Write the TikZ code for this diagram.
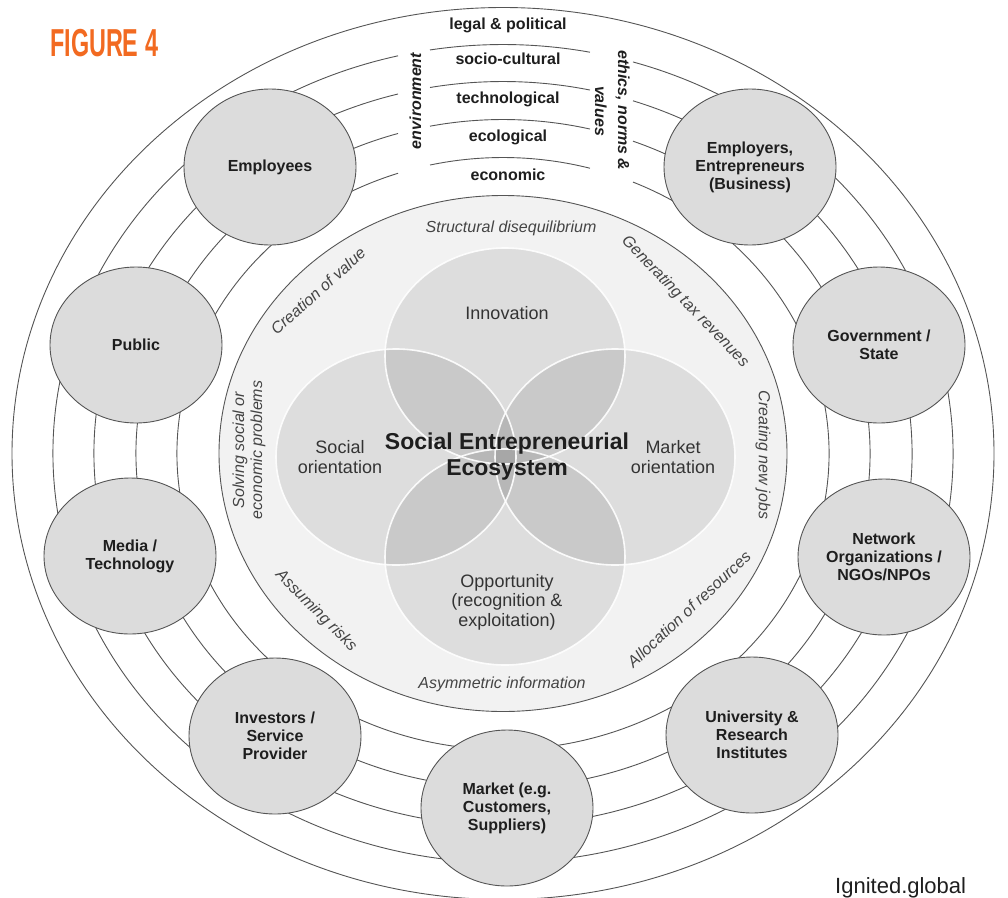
\documentclass[tikz,border=0pt]{standalone}
\usepackage{fontspec}
\setmainfont{Liberation Sans}
\usetikzlibrary{shapes.geometric}

\definecolor{ringline}{HTML}{555555}
\definecolor{discfill}{HTML}{F2F2F2}
\definecolor{actorfill}{HTML}{DCDCDC}
\definecolor{figorange}{HTML}{F26A21}
\definecolor{ink}{HTML}{1E1E1E}
\definecolor{softink}{HTML}{333333}
\definecolor{aspectink}{HTML}{444444}

\begin{document}
\begin{tikzpicture}[x=1pt,y=1pt,
  ring/.style={draw=ringline, line width=0.9pt},
  actor/.style={ellipse, draw=ringline, line width=0.9pt, fill=actorfill,
    minimum width=172pt, minimum height=156pt, inner sep=0pt,
    align=center, text=ink, font=\fontsize{16}{18}\selectfont\bfseries},
  venn/.style={ellipse, fill=black, fill opacity=0.085, draw=none,
    minimum width=240pt, minimum height=216pt, inner sep=0pt},
  vennrim/.style={ellipse, draw=white, draw opacity=0.9, line width=1.6pt,
    minimum width=240pt, minimum height=216pt, inner sep=0pt},
  layer/.style={anchor=base, text=ink, font=\fontsize{16}{18}\selectfont\bfseries},
  sidelabel/.style={anchor=base, text=ink, font=\fontsize{16}{18}\selectfont\bfseries\itshape},
  aspect/.style={text=aspectink, align=center, inner sep=0pt,
    font=\fontsize{16}{18}\selectfont\itshape},
  vennlabel/.style={text=softink, align=center, inner sep=0pt,
    font=\fontsize{18}{19.5}\selectfont},
]
\useasboundingbox (0,0) rectangle (1008,-897);
\clip (0,0) rectangle (1008,-897);

\coordinate (C) at (503,-453.5);

% outer boundary
\draw[ring] (C) ellipse [x radius=491pt, y radius=446pt];

% environmental layers, opened at the top for the two vertical captions
\foreach \rx/\ry in {326/296,367/334,409/372,450/409}{
  \pgfmathsetmacro\aLa{acos(-105/\rx)}
  \pgfmathsetmacro\aLb{acos(-73/\rx)}
  \pgfmathsetmacro\aRa{acos(87/\rx)}
  \pgfmathsetmacro\aRb{acos(130/\rx)+360}
  \draw[ring] (C) ++(\aLa:\rx pt and \ry pt)
    arc[start angle=\aLa, end angle=\aRb, x radius=\rx pt, y radius=\ry pt];
  \draw[ring] (C) ++(\aRa:\rx pt and \ry pt)
    arc[start angle=\aRa, end angle=\aLb, x radius=\rx pt, y radius=\ry pt];
}

% inner ecosystem disc
\draw[ring, fill=discfill] (C) ellipse [x radius=284pt, y radius=258pt];

% four overlapping dimensions
\node[venn] (innov) at (505,-356) {};
\node[venn] (oppo)  at (505,-557) {};
\node[venn] (soc)   at (396,-457) {};
\node[venn] (mkt)   at (615,-457) {};
\node[vennrim] (innovrim) at (innov) {};
\node[vennrim] (opporim)  at (oppo) {};
\node[vennrim] (socrim)   at (soc) {};
\node[vennrim] (mktrim)   at (mkt) {};

\node[vennlabel] (innovtxt) at (507,-313) {Innovation};
\node[vennlabel] (soctxt)   at (340,-457) {Social\\orientation};
\node[vennlabel] (mkttxt)   at (673,-457) {Market\\orientation};
\node[vennlabel] (oppotxt)  at (507,-602) {Opportunity\\(recognition \&\\exploitation)};
\node[align=center, inner sep=0pt, text=ink,
  font=\fontsize{23}{26}\selectfont\bfseries] (core) at (507,-457)
  {Social Entrepreneurial\\Ecosystem};

% functions around the disc
\node[aspect] (struct)  at (511,-228) {Structural disequilibrium};
\node[aspect] (asym)    at (502,-684) {Asymmetric information};
\node[aspect, rotate=42]  (creation) at (318,-291) {Creation of value};
\node[aspect, rotate=-46] (taxes)    at (685,-302) {Generating tax revenues};
\node[aspect, rotate=-90] (jobs)     at (763,-455) {Creating new jobs};
\node[aspect, rotate=43]  (alloc)    at (689,-609) {Allocation of resources};
\node[aspect, rotate=-45] (risks)    at (316,-611) {Assuming risks};
\node[aspect, rotate=90]  (solving)  at (249,-450) {Solving social or\\economic problems};

% layer names
\node[layer] (legal) at (508,-29.5) {legal \& political};
\node[layer] (socio) at (508,-64.5) {socio-cultural};
\node[layer] (tech)  at (508,-103)  {technological};
\node[layer] (eco)   at (508,-141.5){ecological};
\node[layer] (econ)  at (508,-180)  {economic};
\node[sidelabel, rotate=90]  (env)    at (421,-101) {environment};
\node[sidelabel, rotate=-90] (ethics) at (618,-110.5) {ethics, norms \&};
\node[sidelabel, rotate=-90] (values) at (595,-111) {values};

% stakeholders
\node[actor] (employees)  at (270,-167) {Employees};
\node[actor] (employers)  at (750,-167) {Employers,\\Entrepreneurs\\(Business)};
\node[actor] (public)     at (136,-345) {Public};
\node[actor] (government) at (879,-345) {Government /\\State};
\node[actor] (media)      at (130,-556) {Media /\\Technology};
\node[actor] (network)    at (884,-557) {Network\\Organizations /\\NGOs/NPOs};
\node[actor] (investors)  at (275,-736) {Investors /\\Service\\Provider};
\node[actor] (university) at (752,-735) {University \&\\Research\\Institutes};
\node[actor] (market)     at (507,-808) {Market (e.g.\\Customers,\\Suppliers)};

% caption and source
\node[anchor=base west, inner sep=0pt, text=figorange] (fig) at (50,-56)
  {\scalebox{0.6}[1]{\fontsize{39}{39}\selectfont\bfseries FIGURE 4}};
\node[anchor=base west, inner sep=0pt, text=ink,
  font=\fontsize{22}{24}\selectfont] (source) at (835,-893) {Ignited.global};
\end{tikzpicture}
\end{document}
